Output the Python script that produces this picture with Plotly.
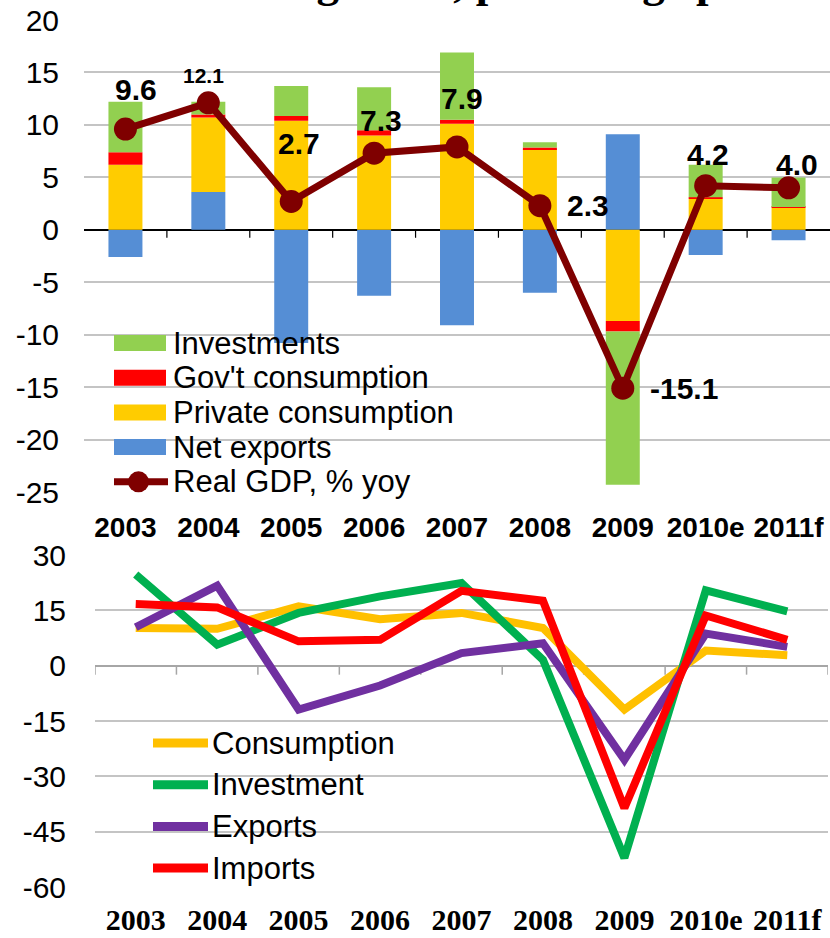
import plotly.graph_objects as go

# ---------------- data ----------------
years = ["2003", "2004", "2005", "2006", "2007", "2008", "2009", "2010e", "2011f"]

# top chart: contributions to growth (pp) and real GDP (% yoy)
net_exports = [-2.6, 3.6, -10.8, -6.3, -9.1, -6.0, 9.1, -2.4, -1.0]
private_cons = [6.2, 7.1, 10.4, 9.0, 10.1, 7.7, -8.7, 2.95, 2.1]
govt_cons = [1.2, 0.3, 0.45, 0.5, 0.4, 0.15, -1.0, 0.16, 0.08]
investments = [4.8, 1.2, 2.85, 4.1, 6.4, 0.5, -14.6, 3.1, 2.8]
real_gdp = [9.6, 12.1, 2.7, 7.3, 7.9, 2.3, -15.1, 4.2, 4.0]

# bottom chart: growth of components (% yoy)
consumption = [10.2, 10.0, 16.1, 12.6, 14.3, 10.2, -11.9, 4.1, 2.8]
investment = [24.7, 5.7, 14.3, 18.8, 22.4, 1.6, -52.1, 20.4, 14.7]
exports = [10.4, 21.7, -11.9, -5.4, 3.4, 6.1, -25.5, 8.7, 5.1]
imports = [16.7, 15.8, 6.6, 7.0, 20.3, 17.6, -38.6, 13.6, 7.0]

top_ticks = [-25, -20, -15, -10, -5, 0, 5, 10, 15, 20]
bottom_ticks = [-60, -45, -30, -15, 0, 15, 30]

title_text = "Real GDP growth, percentage points"

# ---------------- layout helpers ----------------
W, H = 830, 938
def px(x):
    return x / W
def py(y):
    return 1 - y / H

SANS = "Liberation Sans, Arial, sans-serif"
NARROW = "Liberation Sans Narrow, Arial Narrow, Liberation Sans, Arial, sans-serif"
SERIF = "Liberation Serif, Times New Roman, serif"

top_dom_y = [py(492), py(20)]
top_dom_x = [px(84), 1.0]
bot_dom_y = [py(887), py(555)]
bot_dom_x = [px(95), px(828)]

C_INV, C_GOV, C_PRIV, C_NET, C_GDP = "#92D050", "#FF0000", "#FFCC00", "#558ED5", "#7F0000"
C_CONS, C_INVG, C_EXP, C_IMP = "#FFC000", "#00B050", "#7030A0", "#FF0000"

fig = go.Figure()

bar_series = [
    ("Net exports", net_exports, C_NET),
    ("Private consumption", private_cons, C_PRIV),
    ("Gov't consumption", govt_cons, C_GOV),
    ("Investments", investments, C_INV),
]
for name, vals, col in bar_series:
    fig.add_trace(go.Bar(x=years, y=vals, name=name, marker=dict(color=col, line=dict(width=0)),
                         width=0.41, xaxis="x", yaxis="y", showlegend=False))

fig.add_trace(go.Scatter(x=years, y=real_gdp, name="Real GDP, % yoy", mode="lines+markers",
                         line=dict(color=C_GDP, width=7), marker=dict(color=C_GDP, size=23),
                         xaxis="x", yaxis="y", showlegend=False))

line_series = [
    ("Consumption", consumption, C_CONS),
    ("Investment", investment, C_INVG),
    ("Exports", exports, C_EXP),
    ("Imports", imports, C_IMP),
]
for name, vals, col in line_series:
    fig.add_trace(go.Scatter(x=years, y=vals, name=name, mode="lines",
                             line=dict(color=col, width=8), xaxis="x2", yaxis="y2",
                             showlegend=False))

# ---------------- GDP data labels (x given as category index) ----------------
label_offsets = [(11, 40), (-5, 27), (8, 58), (7, 33), (5, 48), (48, 0), (61, 0), (2, 31), (8, 23)]
label_sizes = [30, 21, 30, 30, 30, 30, 30, 30, 30]
annotations = []
for i, (v, (dx, dy), fs) in enumerate(zip(real_gdp, label_offsets, label_sizes)):
    annotations.append(dict(x=i, y=v, xref="x", yref="y", text=f"<b>{v:.1f}</b>", showarrow=False,
                            xshift=dx, yshift=dy, font=dict(family=SANS, size=fs, color="black"),
                            xanchor="center", yanchor="middle"))

# ---------------- category-boundary ticks on the zero lines ----------------
shapes = []
n = len(years)
for i in range(n - 1):
    shapes.append(dict(type="line", xref="x", yref="y", x0=i + 0.5, x1=i + 0.5,
                       ysizemode="pixel", yanchor=0, y0=0, y1=-8,
                       line=dict(color="black", width=1.2), layer="above"))
for i in range(n + 1):
    shapes.append(dict(type="line", xref="x2", yref="y2", x0=i - 0.5, x1=i - 0.5,
                       ysizemode="pixel", yanchor=0, y0=0, y1=-9,
                       line=dict(color="#A6A6A6", width=1.5), layer="below"))

# ---------------- manual legends ----------------
top_leg = [("Investments", C_INV), ("Gov't consumption", C_GOV),
           ("Private consumption", C_PRIV), ("Net exports", C_NET)]
ly0, lstep = 343, 34.7
for i, (name, col) in enumerate(top_leg):
    yc = ly0 + i * lstep
    shapes.append(dict(type="rect", xref="paper", yref="paper", x0=px(114), x1=px(166),
                       y0=py(yc + 8), y1=py(yc - 8), fillcolor=col, line=dict(width=0), layer="above"))
    annotations.append(dict(x=px(171), y=py(yc), xref="paper", yref="paper", text=name,
                            showarrow=False, xanchor="left", yanchor="middle",
                            font=dict(family=SANS, size=31, color="black")))
yc = ly0 + 4 * lstep
shapes.append(dict(type="line", xref="paper", yref="paper", x0=px(114), x1=px(168),
                   y0=py(yc), y1=py(yc), line=dict(color=C_GDP, width=7), layer="above"))
shapes.append(dict(type="circle", xref="paper", yref="paper", x0=px(128), x1=px(149),
                   y0=py(yc + 10.5), y1=py(yc - 10.5), fillcolor=C_GDP, line=dict(width=0), layer="above"))
annotations.append(dict(x=px(171), y=py(yc), xref="paper", yref="paper", text="Real GDP, % yoy",
                        showarrow=False, xanchor="left", yanchor="middle",
                        font=dict(family=SANS, size=31, color="black")))

by0, bstep = 743, 41.7
for i, (name, _, col) in enumerate(line_series):
    yc = by0 + i * bstep
    shapes.append(dict(type="line", xref="paper", yref="paper", x0=px(153), x1=px(208),
                       y0=py(yc), y1=py(yc), line=dict(color=col, width=9), layer="above"))
    annotations.append(dict(x=px(210), y=py(yc), xref="paper", yref="paper", text=name,
                            showarrow=False, xanchor="left", yanchor="middle",
                            font=dict(family=SANS, size=31, color="black")))

# cropped title at the very top (only its descenders show, as in the reference)
annotations.append(dict(x=px(464), y=1, xref="paper", yref="paper", text="<b>" + title_text + "</b>",
                        showarrow=False, xanchor="center", yanchor="bottom", yshift=-9,
                        font=dict(family=SERIF, size=45, color="black")))

grid_col = "#C4C4C4"
fig.update_layout(
    width=W, height=H, autosize=False,
    margin=dict(l=0, r=0, t=0, b=0, autoexpand=False),
    paper_bgcolor="white", plot_bgcolor="white",
    barmode="relative",
    showlegend=False,
    xaxis=dict(domain=top_dom_x, anchor="y", type="category", categoryorder="array",
               categoryarray=years, range=[-0.5, n - 0.5], showgrid=False, showline=False, ticks="",
               tickfont=dict(family=NARROW, size=28, color="black", weight="bold"),
               ticklabelstandoff=16, zeroline=False, automargin=False),
    yaxis=dict(domain=top_dom_y, anchor="x", range=[min(top_ticks), max(top_ticks)],
               tickmode="array", tickvals=top_ticks, ticktext=[str(v) for v in top_ticks],
               showgrid=True, gridcolor=grid_col, gridwidth=2, zeroline=True, zerolinecolor="black",
               zerolinewidth=1.5, showline=False, automargin=False,
               ticks="", tickfont=dict(family=SANS, size=30, color="black"), ticklabelstandoff=24),
    xaxis2=dict(domain=bot_dom_x, anchor="y2", type="category", categoryorder="array",
                categoryarray=years, range=[-0.5, n - 0.5], showgrid=False, showline=False, ticks="",
                tickfont=dict(family=SERIF, size=30, color="black", weight="bold"),
                ticklabelstandoff=12, zeroline=False, automargin=False),
    yaxis2=dict(domain=bot_dom_y, anchor="x2", range=[min(bottom_ticks), max(bottom_ticks)],
                tickmode="array", tickvals=bottom_ticks, ticktext=[str(v) for v in bottom_ticks],
                showgrid=True, gridcolor=grid_col, gridwidth=2, zeroline=True, zerolinecolor="#A6A6A6",
                zerolinewidth=2, showline=False, automargin=False,
                ticks="", tickfont=dict(family=SANS, size=30, color="black"), ticklabelstandoff=28),
    annotations=annotations,
    shapes=shapes,
)

fig.write_html("out.html", config={"displayModeBar": False},
               post_script="document.body.style.margin='0px';")
